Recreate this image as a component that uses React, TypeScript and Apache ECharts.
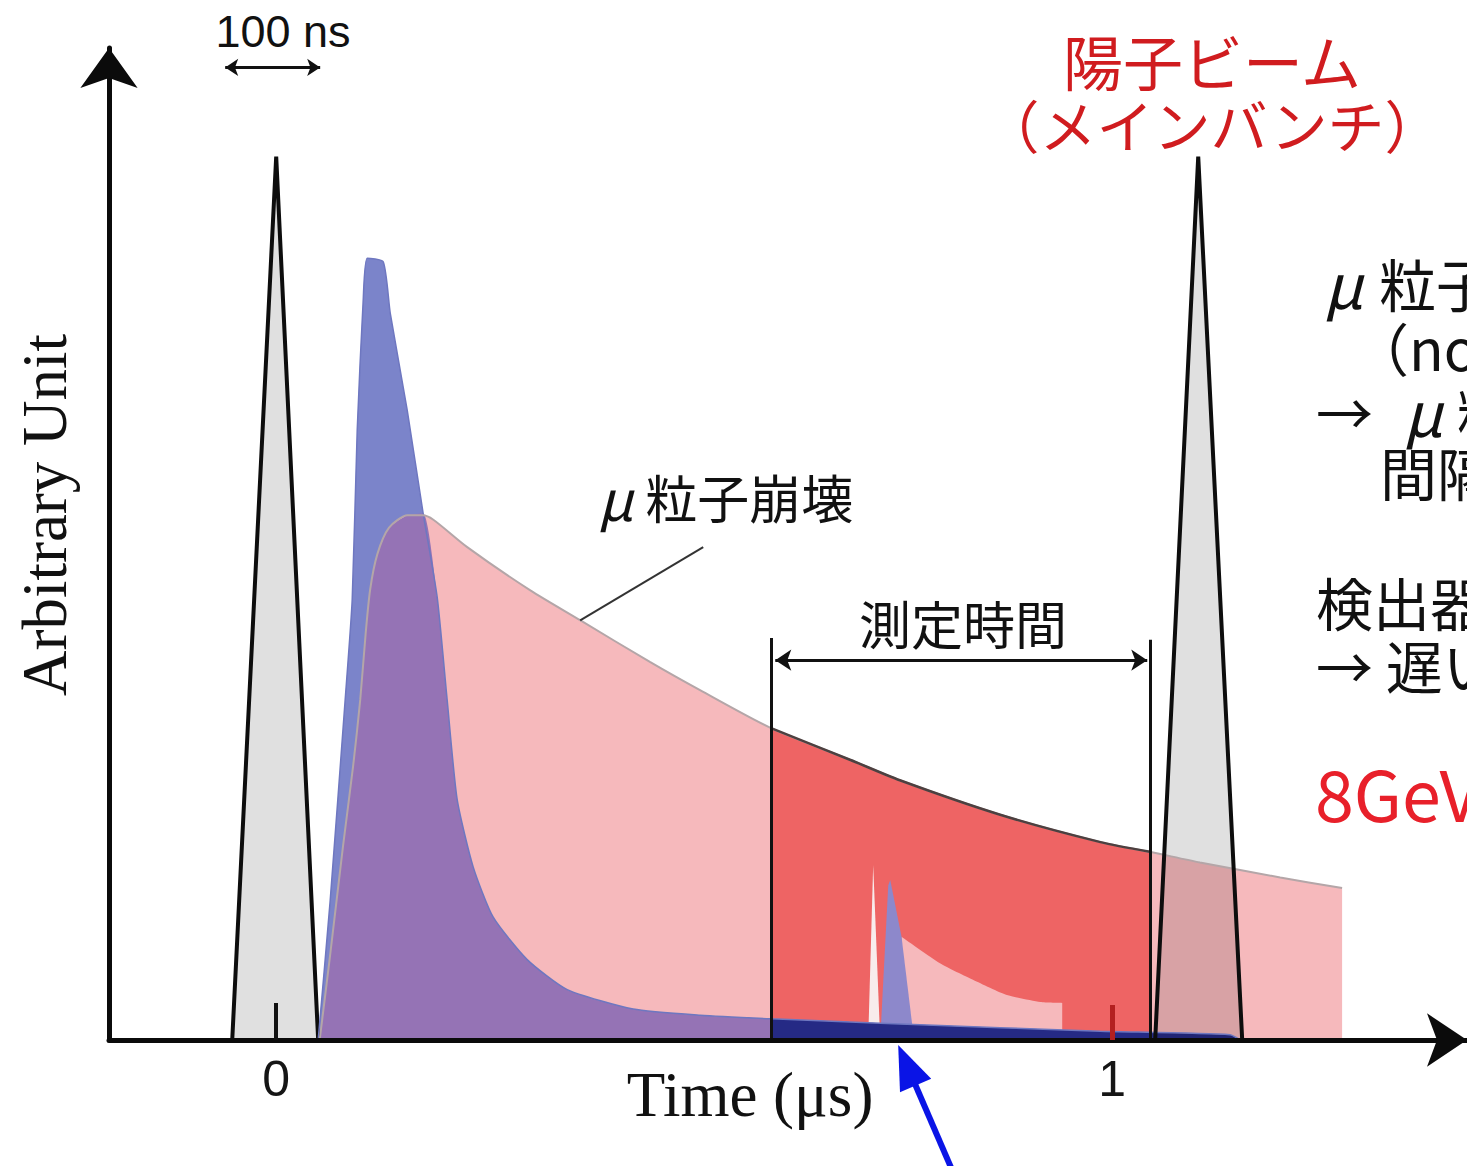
import { useEffect, useRef } from "react";
import * as echarts from "echarts";

// Time in μs, intensity in arbitrary units.
const leftBunch = [[-0.0526, 0], [0, 100], [0.0502, 0]];
const rightBunch = [[1.0514, 0], [1.1029, 100], [1.1555, 0]];

// Secondary pulse arriving just after the bunch, with its long tail.
const pionPulse = [
  [0.0502, 0], [0.0646, 15.8], [0.0825, 38.5], [0.0909, 49.8], [0.0969, 69], [0.1041, 83.8],
  [0.1089, 88.5], [0.128, 88.1], [0.1364, 82.3], [0.1567, 71.3], [0.1758, 59.6], [0.1926, 50.1],
  [0.2045, 38.5], [0.2165, 27.2], [0.2356, 19.6], [0.2596, 13.9], [0.3002, 9.1], [0.3481, 5.7],
  [0.427, 3.5], [0.5072, 2.8], [0.592, 2.4], [0.7225, 1.9], [0.866, 1.4], [0.9856, 1.0],
  [1.141, 0.6], [1.153, 0],
];

// Muon decay curve.
const muonDecay = [
  [0.052, 0], [0.065, 10], [0.08, 22], [0.092, 31], [0.1005, 38.5], [0.107, 46], [0.1124, 51],
  [0.121, 55], [0.135, 58], [0.157, 59.4], [0.175, 59.4], [0.188, 58.9], [0.2285, 55.8],
  [0.304, 50.9], [0.364, 47.5], [0.447, 42.8], [0.507, 39.6], [0.592, 35.3], [0.687, 31.7],
  [0.746, 29.4], [0.866, 25.5], [0.986, 22.4], [1.045, 21.3], [1.105, 20.1], [1.201, 18.4],
  [1.275, 17.2],
];

// Measurement window (μs).
const windowStart = 0.592;
const windowEnd = 1.045;

// Leaked particles arriving inside the window.
const leakWhite = [[0.7081, 0], [0.7141, 19.8], [0.7225, 0]];
const leakPulse = [[0.7225, 0], [0.7321, 17.5], [0.7345, 18.1], [0.748, 11.7], [0.763, 0]];
const leakDecay = [[0.748, 11.7], [0.794, 8.7], [0.834, 6.8], [0.874, 5.1], [0.914, 4.3], [0.9402, 4.2]];

const xTicks = [0, 1];
const scaleBar = [-0.061, 0.0526]; // 100 ns marker
const scaleBarY = 110.1;
const windowArrow = [0.597, 1.0419];
const windowArrowY = 43.0;
const leakArrow = [[0.8134, -15.8], [0.744, -0.57]];

const JP = '"Noto Sans CJK JP", "Noto Sans", sans-serif';
const SANS = '"Liberation Sans", Arial, sans-serif';
const SERIF = '"Liberation Serif", "Times New Roman", serif';

// Purple overlap: rising edge of the decay curve, then the falling edge of the pulse.
const overlap = [
  ...muonDecay.filter(([x]) => x < 0.17),
  ...pionPulse.filter(([x]) => x >= 0.175 && x <= windowStart),
];
const windowFill = muonDecay.filter(([x]) => x >= windowStart && x <= windowEnd);
const windowTail = pionPulse.filter(([x]) => x >= windowStart);

function area(name: string, data: number[][], fill: string, line: string, width: number, smooth: number) {
  return {
    type: "line",
    name,
    data,
    smooth,
    symbol: "none",
    silent: true,
    lineStyle: { color: line, width, opacity: width > 0 ? 1 : 0 },
    areaStyle: { color: fill, opacity: 1 },
  };
}

function guide(name: string, segments: number[][][], color: string, width: number, symbol: string[], symbolSize: number) {
  return {
    type: "line",
    name,
    data: [],
    silent: true,
    clip: false,
    z: 20,
    markLine: {
      silent: true,
      animation: false,
      symbol,
      symbolSize,
      label: { show: false },
      emphasis: { disabled: true },
      lineStyle: { color, width, type: "solid" },
      data: segments.map(([a, b]) => [{ coord: a }, { coord: b }]),
    },
  };
}

function label(text: string, x: number, y: number, size: number, extra: Record<string, unknown> = {}) {
  return {
    type: "text",
    x,
    y,
    z: 100,
    silent: true,
    style: {
      text,
      fontSize: size,
      fontFamily: JP,
      fill: "#111",
      align: "center",
      verticalAlign: "middle",
      ...extra,
    },
  };
}

// Italic μ followed by a small gap, as in the Japanese annotations.
const muRich = (size: number, left = 2, right = 14) => ({
  m: {
    fontStyle: "italic",
    fontSize: Math.round(size * 1.08),
    fontFamily: JP,
    fill: "#111",
    padding: [0, right, 0, left],
  },
});

export default function App() {
  const ref = useRef<HTMLDivElement>(null);

  useEffect(() => {
    const chart = echarts.init(ref.current!, null, { renderer: "svg" });
    const bunchStyle = (data: number[][]) => ({
      type: "line",
      data,
      symbol: "none",
      silent: true,
      lineStyle: { color: "#0d0d0d", width: 4 },
      areaStyle: { color: "rgba(0,0,0,0.12)", opacity: 1 },
    });

    chart.setOption({
      animation: false,
      backgroundColor: "#ffffff",
      grid: { left: 109, right: 0, top: 48, bottom: 126 },
      xAxis: [
        {
          type: "value",
          min: -0.2,
          max: 1.4244,
          z: 10,
          axisLine: {
            show: true,
            onZero: false,
            symbol: ["none", "arrow"],
            symbolSize: [40, 40],
            lineStyle: { color: "#0b0b0b", width: 5 },
          },
          axisTick: { show: true, inside: true, length: 37, customValues: [xTicks[0]], lineStyle: { color: "#111", width: 4 } },
          axisLabel: {
            show: true,
            customValues: xTicks,
            margin: 14,
            fontSize: 50,
            fontFamily: SANS,
            color: "#151515",
            formatter: (v: number) => String(v),
          },
          splitLine: { show: false },
        },
        {
          type: "value",
          min: -0.2,
          max: 1.4244,
          position: "bottom",
          z: 10,
          axisLine: { show: false },
          axisTick: { show: true, inside: true, length: 35, customValues: [xTicks[1]], lineStyle: { color: "#b32020", width: 5 } },
          axisLabel: { show: false },
          splitLine: { show: false },
        },
      ],
      yAxis: {
        type: "value",
        min: 0,
        max: 112.3,
        z: 10,
        axisLine: {
          show: true,
          onZero: false,
          symbol: ["none", "arrow"],
          symbolSize: [43, 40],
          lineStyle: { color: "#0b0b0b", width: 5 },
        },
        axisTick: { show: false },
        axisLabel: { show: false },
        splitLine: { show: false },
      },
      series: [
        bunchStyle(leftBunch),
        area("pion", pionPulse, "#7b84ca", "#6e77c0", 1.5, 0.2),
        area("decay", muonDecay, "#f6b9bc", "#b4a6a8", 2, 0.25),
        area("overlap", overlap, "#9573b5", "#9573b5", 0, 0.2),
        area("window", windowFill, "#ee6464", "#4d4040", 2.5, 0.25),
        area("leakDecay", leakDecay, "#f6b9bc", "#f6b9bc", 0, 0.2),
        area("leakWhite", leakWhite, "#f8ecec", "#f8ecec", 0, 0),
        area("leakPulse", leakPulse, "#8d88cb", "#8d88cb", 0, 0),
        area("windowTail", windowTail, "#252a85", "#252a85", 0, 0.2),
        bunchStyle(rightBunch),
        guide(
          "bounds",
          [
            [[windowStart, 0], [windowStart, 45.5]],
            [[windowEnd, 0], [windowEnd, 45.3]],
          ],
          "#111",
          3,
          ["none", "none"],
          0
        ),
        guide("window", [[[windowArrow[0], windowArrowY], [windowArrow[1], windowArrowY]]], "#111", 3, ["arrow", "arrow"], 16),
        guide("scale", [[[scaleBar[0], scaleBarY], [scaleBar[1], scaleBarY]]], "#111", 3, ["arrow", "arrow"], 13),
        guide("pointer", [[[0.3636, 47.5], [0.5108, 55.8]]], "#333", 2, ["none", "none"], 0),
      ],
    });

    // The arrow pointing at the leaked particles sits partly below the axis,
    // so it is placed from the chart's own scale as a graphic.
    const toPx = (pt: number[]) => chart.convertToPixel({ seriesIndex: 0 }, pt) as number[];
    const [sx, sy] = toPx(leakArrow[0]);
    const [tx, ty] = toPx(leakArrow[1]);
    const len = Math.hypot(tx - sx, ty - sy);
    const ux = (tx - sx) / len;
    const uy = (ty - sy) / len;
    const headLen = 44;
    const headHalf = 17;
    const bx = tx - ux * headLen;
    const by = ty - uy * headLen;

    chart.setOption({
      graphic: [
        {
          type: "line",
          z: 100,
          silent: true,
          shape: { x1: sx, y1: sy, x2: bx + ux * 4, y2: by + uy * 4 },
          style: { stroke: "#0a14e6", lineWidth: 6 },
        },
        {
          type: "polygon",
          z: 100,
          silent: true,
          shape: {
            points: [
              [tx, ty],
              [bx - uy * headHalf, by + ux * headHalf],
              [bx + uy * headHalf, by - ux * headHalf],
            ],
          },
          style: { fill: "#0a14e6" },
        },
        label("100 ns", 283, 31, 45, { fontFamily: SANS }),
        label("陽子ビーム", 1212, 59, 60, { fill: "#d01c1f" }),
        label("（メインバンチ）", 1212, 123, 57, { fill: "#d01c1f" }),
        label("{m|μ}粒子崩壊", 596, 496, 52, { align: "left", rich: muRich(52, 2, 12) }),
        label("測定時間", 963, 622, 52),
        label("{m|μ}粒子", 1322, 282, 57, { align: "left", rich: muRich(57, 2, 16) }),
        label("（no", 1352, 346, 57, { align: "left" }),
        label("→ {m|μ}粒", 1316, 410, 57, { align: "left", rich: muRich(57, 18, 14) }),
        label("間隔", 1380, 471, 57, { align: "left" }),
        label("検出器", 1316, 601, 57, { align: "left" }),
        label("→ 遅い", 1316, 664, 57, { align: "left" }),
        label("8GeV", 1315, 791, 70, { align: "left", fill: "#e8202a" }),
        label("Time (μs)", 750, 1095, 63, { fontFamily: SERIF }),
        {
          type: "text",
          x: 45,
          y: 515,
          rotation: Math.PI / 2,
          z: 100,
          silent: true,
          style: {
            text: "Arbitrary Unit",
            fontSize: 63,
            fontFamily: SERIF,
            fill: "#111",
            align: "center",
            verticalAlign: "middle",
          },
        },
      ],
    });
    return () => chart.dispose();
  }, []);

  return (
    <div
      ref={ref}
      style={{ position: "absolute", left: 0, top: 0, width: 1467, height: 1166, background: "#fff" }}
    />
  );
}
